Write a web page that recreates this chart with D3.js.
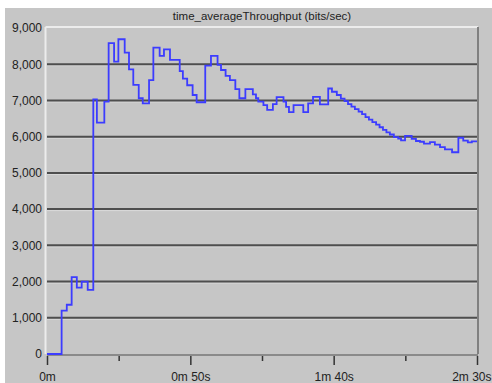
<!DOCTYPE html>
<html>
<head>
<meta charset="utf-8">
<script src="https://cdn.jsdelivr.net/npm/d3@7/dist/d3.min.js"></script>
<style>
  body { margin: 0; background: #ffffff; }
  svg { display: block; font-family: "Liberation Sans", Arial, sans-serif; }
</style>
</head>
<body>
<div id="chart"></div>
<script>
// --- data (time in seconds, throughput in bits/sec, step-after) ---
const times = [
  0, 5.1, 6.9, 8.6, 10.4, 12.1, 14.2, 16.15, 17.4, 20.0,
  21.5, 23.4, 24.9, 27.1, 28.6, 30.1, 32.0, 33.4, 35.6, 37.1,
  39.3, 40.8, 42.9, 46.3, 47.4, 48.9, 50.8, 52.2, 55.2, 57.2,
  59.5, 60.7, 62.3, 63.8, 65.7, 67.1, 69.2, 71.8, 72.9, 73.7,
  75.5, 76.8, 78.8, 80.1, 82.5, 83.4, 84.4, 86.0, 87.7, 89.4,
  91.1, 92.8, 95.2, 98.1, 99.4, 101.1, 102.5, 103.8, 105.0, 106.2,
  107.4, 108.7, 109.9, 111.1, 112.3, 113.5, 114.8, 116.0, 117.2, 118.4,
  119.6, 121.0, 122.5, 123.5, 124.9, 127.2, 128.7, 130.1, 131.5, 133.6,
  135.3, 137.1, 138.8, 141.3, 143.5, 145.2, 146.8, 148.2
];
const values = [
  0, 1200, 1360, 2120, 1830, 2000, 1770, 7030, 6390, 6970,
  8580, 8070, 8690, 8320, 7860, 7430, 7060, 6920, 7560, 8460,
  8230, 8410, 8120, 7810, 7600, 7420, 7150, 6950, 7960, 8230,
  7980, 7840, 7680, 7560, 7310, 7060, 7310, 7170, 7060, 6970,
  6870, 6740, 6900, 7090, 6970, 6820, 6680, 6870, 6870, 6680,
  6920, 7100, 6890, 7330, 7240, 7150, 7050, 6980, 6900, 6830,
  6760, 6690, 6620, 6540, 6470, 6400, 6330, 6260, 6190, 6120,
  6060, 5990, 5950, 5900, 6020, 5940, 5880, 5860, 5810, 5850,
  5780, 5710, 5650, 5570, 5970, 5890, 5840, 5870
];
const yTicks = [0, 1000, 2000, 3000, 4000, 5000, 6000, 7000, 8000, 9000];
const xMajor = [0, 50, 100, 150];
const xMajorLabels = ["0m", "0m 50s", "1m 40s", "2m 30s"];
const xMinor = [25, 75, 125];
const title = "time_averageThroughput (bits/sec)";

const W = 492, H = 383;
const plotL = 47, plotR = 477, plotT = 28, plotB = 354;

const data = times.map((t, i) => ({ t: t, v: values[i] }));
data.push({ t: 150, v: values[values.length - 1] });

const svg = d3.select('#chart').append('svg')
  .attr('width', W).attr('height', H);

// gray panel
svg.append('rect')
  .attr('x', 5).attr('y', 8)
  .attr('width', W - 5).attr('height', H - 8)
  .attr('fill', '#c6c6c6');

const x = d3.scaleLinear().domain([0, 150]).range([plotL, plotR]);
const y = d3.scaleLinear().domain([0, 9000]).range([plotB, plotT]);

// title
svg.append('text')
  .attr('x', (plotL + plotR) / 2).attr('y', 20)
  .attr('text-anchor', 'middle')
  .attr('fill', '#222')
  .style('font-size', '11.5px')
  .text(title);

// plot frame: light top/left, darker right
svg.append('line').attr('x1', plotL - 1.5).attr('x2', plotL - 1.5)
  .attr('y1', plotT - 1).attr('y2', plotB)
  .attr('stroke', '#ececec').attr('stroke-width', 2);
svg.append('line').attr('x1', plotL - 1.5).attr('x2', plotR + 1)
  .attr('y1', plotT - 1).attr('y2', plotT - 1)
  .attr('stroke', '#ececec').attr('stroke-width', 2);
svg.append('line').attr('x1', plotR + 1).attr('x2', plotR + 1)
  .attr('y1', plotT - 1).attr('y2', plotB)
  .attr('stroke', '#808080').attr('stroke-width', 2);

// gridlines (dark with light edge below)
const gridVals = yTicks.filter(d => d > 0 && d < 9000);
svg.append('g').selectAll('line.hl')
  .data(gridVals).enter().append('line')
  .attr('x1', plotL).attr('x2', plotR)
  .attr('y1', d => y(d) + 1.5).attr('y2', d => y(d) + 1.5)
  .attr('stroke', '#dadada').attr('stroke-width', 1);
svg.append('g').selectAll('line.gl')
  .data(gridVals).enter().append('line')
  .attr('x1', plotL).attr('x2', plotR)
  .attr('y1', d => y(d)).attr('y2', d => y(d))
  .attr('stroke', '#4e4e4e').attr('stroke-width', 2);

// y axis labels
const yAxis = svg.append('g')
  .attr('transform', `translate(${plotL},0)`)
  .call(d3.axisLeft(y).tickValues(yTicks).tickSize(0).tickPadding(5).tickFormat(d3.format(',')));
yAxis.select('.domain').remove();
yAxis.selectAll('text').attr('fill', '#222').style('font-size', '12px')
  .style('font-family', '"Liberation Sans", Arial, sans-serif');

// x axis line
svg.append('line').attr('x1', plotL).attr('x2', plotR + 1)
  .attr('y1', plotB + 1).attr('y2', plotB + 1)
  .attr('stroke', '#8a8a8a').attr('stroke-width', 2);

// x major ticks
const xAxis = svg.append('g')
  .attr('transform', `translate(0,${plotB + 2})`)
  .call(d3.axisBottom(x).tickValues(xMajor).tickSize(9).tickPadding(7)
    .tickFormat((d, i) => xMajorLabels[i]));
xAxis.select('.domain').remove();
xAxis.selectAll('line').attr('stroke', '#333').attr('stroke-width', 1.5);
xAxis.selectAll('text').attr('fill', '#222').style('font-size', '12px')
  .style('font-family', '"Liberation Sans", Arial, sans-serif');
// last label would run past the window edge: pin it to the right side
xAxis.selectAll('.tick').filter(d => d === 150).select('text')
  .attr('text-anchor', 'end').attr('x', W - 1 - x(150));

// x minor ticks
const xMinorAxis = svg.append('g')
  .attr('transform', `translate(0,${plotB + 2})`)
  .call(d3.axisBottom(x).tickValues(xMinor).tickSize(5).tickFormat(''));
xMinorAxis.select('.domain').remove();
xMinorAxis.selectAll('line').attr('stroke', '#333').attr('stroke-width', 1.5);

// series
const line = d3.line()
  .x(d => x(d.t))
  .y(d => y(d.v))
  .curve(d3.curveStepAfter);

svg.append('path')
  .datum(data)
  .attr('fill', 'none')
  .attr('stroke', '#3c3cff')
  .attr('stroke-width', 1.8)
  .attr('d', line);
</script>
</body>
</html>
